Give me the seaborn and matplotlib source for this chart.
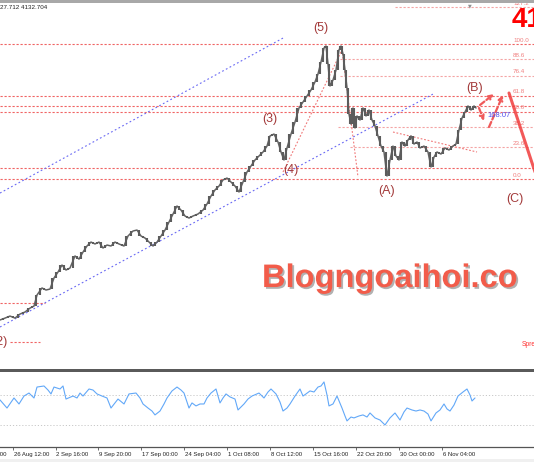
import matplotlib
matplotlib.use("Agg")
import matplotlib.pyplot as plt
import matplotlib.patheffects as pe
from matplotlib.patches import Rectangle
import seaborn as sns

# ---------------- data ----------------
# price expressed in Fibonacci-percent units of the drawn retracement
bar_x = [0, 5, 10, 15, 20, 25, 30, 34, 37, 42, 46, 50, 54, 58, 62, 66, 70, 75, 79, 83,
         87, 91, 95, 99, 103, 107, 111, 115, 119, 124, 128, 133, 137, 141, 145, 149, 153, 157, 161, 165,
         169, 173, 177, 181, 185, 189, 193, 198, 203, 207, 211, 215, 219, 223, 227, 231, 235, 239, 243, 247,
         251, 255, 259, 263, 267, 270, 274, 278, 281, 284, 287, 291, 295, 299, 303, 307, 311, 315, 318, 321,
         324, 326, 328, 330, 333, 336, 339, 341, 343, 345, 347, 349, 351, 353, 355, 357, 360, 363, 366, 369,
         372, 375, 378, 381, 384, 387, 390, 393, 396, 399, 402, 405, 408, 411, 414, 417, 420, 424, 428, 431,
         434, 437, 441, 445, 449, 453, 456, 459, 462, 465, 468, 471, 474, 476]
price = [-104.4, -103.0, -101.5, -103.0, -100.0, -98.5, -95.6, -94.1, -85.9, -80.7,
         -82.2, -81.5, -73.3, -68.9, -63.7, -67.4, -65.9, -57.0, -59.3, -54.1,
         -49.6, -46.7, -48.1, -46.7, -51.1, -48.9, -49.6, -46.7, -48.1, -49.6,
         -42.2, -38.5, -37.8, -42.2, -43.7, -46.7, -49.6, -46.7, -42.2, -37.8,
         -31.9, -25.9, -20.0, -23.0, -27.4, -28.9, -27.4, -25.9, -23.0, -18.5,
         -12.6, -8.1, -5.2, -0.7, 0.7, -2.2, -5.2, -9.6, -2.2, 5.2,
         9.6, 14.1, 17.0, 20.0, 24.4, 31.9, 33.3, 27.4, 20.0, 14.1,
         23.0, 33.3, 42.2, 52.6, 57.0, 61.5, 65.9, 71.9, 77.8, 86.7,
         97.0, 98.5, 85.2, 68.9, 73.3, 80.7, 95.6, 98.5, 92.6, 80.7,
         67.4, 48.1, 40.7, 52.6, 37.8, 46.7, 43.7, 52.6, 46.7, 51.1,
         43.7, 39.3, 31.9, 24.4, 20.0, 2.2, 14.1, 24.4, 17.0, 14.1,
         27.4, 24.4, 28.9, 31.9, 25.9, 27.4, 23.0, 24.4, 20.0, 8.9,
         16.3, 20.0, 18.5, 23.0, 21.5, 24.4, 25.9, 36.3, 45.2, 49.6,
         54.1, 51.1, 54.1, 52.6]

osc_x = [0, 7, 14, 19, 24, 29, 34, 37, 44, 48, 51, 54, 60, 63, 66, 73, 77, 80, 83, 89,
         93, 97, 102, 107, 111, 118, 124, 129, 136, 140, 143, 148, 152, 155, 160, 164, 167, 172, 177, 181,
         184, 189, 192, 196, 200, 204, 207, 211, 216, 220, 223, 226, 230, 235, 238, 244, 248, 252, 259, 264,
         268, 271, 276, 280, 283, 287, 290, 295, 300, 303, 306, 310, 314, 318, 321, 324, 327, 329, 333, 337,
         342, 345, 347, 351, 354, 359, 363, 367, 370, 375, 380, 385, 390, 395, 400, 404, 407, 412, 416, 420,
         424, 428, 431, 436, 440, 444, 447, 450, 454, 458, 463, 467, 470, 472, 475]
osc = [46.7, 41.3, 48.0, 44.0, 49.3, 51.3, 48.0, 55.3, 56.0, 53.3,
       50.7, 55.3, 54.0, 56.0, 47.3, 49.3, 48.0, 51.3, 49.3, 54.0,
       53.3, 50.7, 49.3, 48.0, 41.3, 47.3, 44.0, 50.7, 51.3, 48.0,
       44.0, 41.3, 39.3, 36.7, 39.3, 44.0, 48.0, 52.7, 55.3, 53.3,
       51.3, 41.3, 44.7, 42.7, 44.0, 44.0, 48.0, 51.3, 54.0, 44.7,
       48.0, 50.7, 48.7, 47.3, 40.0, 44.0, 47.3, 49.3, 51.3, 48.0,
       52.0, 54.0, 50.7, 45.3, 39.3, 41.3, 44.0, 49.3, 54.0, 49.3,
       50.7, 52.7, 52.0, 55.3, 56.0, 58.7, 50.0, 42.7, 44.0, 49.3,
       41.3, 36.0, 32.7, 35.3, 34.7, 36.0, 36.7, 35.3, 38.0, 34.7,
       33.3, 30.0, 34.7, 38.0, 33.3, 38.7, 41.3, 40.0, 39.3, 40.0,
       39.3, 37.3, 32.7, 38.0, 40.0, 44.0, 40.7, 39.3, 43.3, 49.3,
       52.0, 54.0, 50.0, 46.0, 48.0]
osc_levels = [50.0, 30.0]

tick_pos = [-30.3, 12.6, 55.5, 98.4, 141.3, 184.2, 227.1, 270.0, 312.9, 355.8, 398.7, 441.6]
tick_labels = ["19 Aug 08:00", "26 Aug 12:00", "2 Sep 16:00", "9 Sep 20:00", "17 Sep 00:00",
               "24 Sep 04:00", "1 Oct 08:00", "8 Oct 12:00", "15 Oct 16:00", "22 Oct 20:00",
               "30 Oct 00:00", "6 Nov 04:00"]

fib_levels = [0.0, 23.6, 38.2, 50.0, 61.8, 76.4, 88.6, 100.0, 127.2]
fib_labels = ["0.0", "23.6", "38.2", "50.0", "61.8", "76.4", "88.6", "100.0", "127.2"]
fib_start = [0, 350, 338, 0, 0, 340, 340, 0, 395]
extra_levels = [54.1, 8.1]
left_levels = [-91.9, -120.7]
left_start = [0, 10]
left_end = [45, 40]

channel_upper_x = [0, 285]
channel_upper_y = [-10.4, 105.2]
channel_lower_x = [0, 435]
channel_lower_y = [-109.6, 63.7]
trend_lines = [([283, 341], [5.2, 94.1]), ([342, 358], [95.6, 1.5]), ([393, 477], [34.8, 20.0])]

waves = ["(5)", "(3)", "(4)", "(A)", "(B)", "(C)"]
wave_x = [321, 270, 291, 387, 475, 515]
wave_y = [111.9, 44.4, 6.7, -8.9, 67.4, -14.8]

proj_arrows = [((480, 54.8), (494, 63.0)), ((479, 52.6), (484, 43.0)), ((489, 38.5), (503, 62.2))]
proj_c_x = [509, 536]
proj_c_y = [63.7, 3.0]

# ---------------- figure ----------------
W, H = 534, 462
sns.set_theme(style="white")
plt.rcParams['font.family'] = ['Liberation Sans', 'DejaVu Sans']
fig = plt.figure(figsize=(W / 100, H / 100), dpi=100)
fig.patch.set_facecolor("white")


def fy(ypx):
    return 1 - ypx / H


ax = fig.add_axes([0, fy(369), 1, (369 - 2) / H])
ax2 = fig.add_axes([0, fy(447), 1, (447 - 371) / H])
for a in (ax, ax2):
    a.set_facecolor("white")
    a.set_xlim(0, W)
    for s in a.spines.values():
        s.set_visible(False)
    a.set_yticks([])
ax.set_xticks([])
ax.set_ylim(-140.7, 131.1)
ax2.set_ylim(15.3, 66.0)

dot_full = (0, (2.0, 1.6))
# horizontal levels
for lv, x0 in zip(fib_levels, fib_start):
    col = "#f06464" if x0 == 0 else "#f4a4a4"
    ax.plot([x0, W], [lv, lv], color=col, lw=0.8, ls=dot_full, zorder=1)
for lv in extra_levels:
    ax.plot([0, W], [lv, lv], color="#f06464", lw=0.8, ls=dot_full, zorder=1)
for lv, x0, x1 in zip(left_levels, left_start, left_end):
    ax.plot([x0, x1], [lv, lv], color="#f06464", lw=0.8, ls=dot_full, zorder=1)
for lv, lab in zip(fib_levels, fib_labels):
    ax.text(513, lv + 1.1, lab, fontsize=4.5, color="#f08080", ha="left", va="bottom")

# channels and trend lines
ax.plot(channel_upper_x, channel_upper_y, color="#6a6af4", lw=0.8, ls=(0, (1.6, 2.2)), zorder=1)
ax.plot(channel_lower_x, channel_lower_y, color="#6a6af4", lw=0.8, ls=(0, (1.6, 2.2)), zorder=1)
for tx, ty in trend_lines:
    ax.plot(tx, ty, color="#f07878", lw=0.8, ls=(0, (1.6, 1.6)), zorder=1)

# price: bar-like rendering (vertical range between successive readings + thin path)
sns.lineplot(x=bar_x, y=price, ax=ax, color="#646464", lw=1.1, sort=False, estimator=None, zorder=3)
mid_x = [(a + b) / 2 for a, b in zip(bar_x[:-1], bar_x[1:])]
lo = [min(a, b) for a, b in zip(price[:-1], price[1:])]
hi = [max(a, b) for a, b in zip(price[:-1], price[1:])]
ax.vlines(mid_x, lo, hi, color="#5c5c5c", lw=1.5, zorder=3)

# projection arrows
for (x0, y0), (x1, y1) in proj_arrows:
    ax.annotate("", xy=(x1, y1), xytext=(x0, y0),
                arrowprops=dict(arrowstyle="->", color="#f05a5a", lw=1.6, ls=(0, (2.5, 1.2)),
                                shrinkA=0, shrinkB=0, mutation_scale=7))
ax.plot(proj_c_x, proj_c_y, color="#f03c3c", lw=2.2, alpha=0.85, zorder=4)

# wave labels
for t, x, y in zip(waves, wave_x, wave_y):
    ax.text(x, y, t, fontsize=9, color="#a33a3a", ha="center", va="center")
ax.text(7.5, -120.7, "(2)", fontsize=9, color="#a33a3a", ha="right", va="center")

# other texts
ax.text(487, 47.4, "168:07", fontsize=5.4, color="#5050f0", ha="left", va="center")
ax.text(512, 112.6, "41", fontsize=20, fontweight="bold", color="#ff0000", ha="left", va="baseline")
ax.text(262, -80, "Blogngoaihoi.co", fontsize=23.5, fontweight="bold", color="#f25c4a",
        ha="left", va="baseline",
        path_effects=[pe.SimplePatchShadow(offset=(1.3, -1.3), shadow_rgbFace="#808080", alpha=0.6),
                      pe.Normal()])
ax.text(522, -123.7, "Spread", fontsize=4.8, color="#ff3030", ha="left", va="baseline")

# oscillator
for lv in osc_levels:
    ax2.plot([0, W], [lv, lv], color="#c8c8c8", lw=0.7, ls=(0, (1.2, 2.0)), zorder=1)
sns.lineplot(x=osc_x, y=osc, ax=ax2, color="#62a8f8", lw=0.8, sort=False, estimator=None, zorder=3)

# time axis
ax2.spines["bottom"].set_visible(True)
ax2.spines["bottom"].set_color("#555555")
ax2.spines["bottom"].set_linewidth(0.9)
ax2.set_xticks([p for p in tick_pos if 0 <= p <= W])
ax2.tick_params(axis="x", bottom=True, direction="out", length=2.5, width=0.6, color="#555555",
                labelbottom=False)
for p, lab in zip(tick_pos, tick_labels):
    ax2.text(p + 1, -0.06, lab, transform=ax2.get_xaxis_transform(), fontsize=4.3,
             color="#222222", ha="left", va="top", clip_on=False)

# window chrome
fig.patches.append(Rectangle((0, fy(2.5)), 1, 2.5 / H, transform=fig.transFigure,
                             facecolor="#a8a8a8", edgecolor="none"))
fig.patches.append(Rectangle((0, fy(371.5)), 1, 2.3 / H, transform=fig.transFigure,
                             facecolor="#5a5a5a", edgecolor="none"))
fig.patches.append(Rectangle((0, 0), 1, 3 / H, transform=fig.transFigure,
                             facecolor="#f0f0f0", edgecolor="none"))
fig.text(470 / W, fy(5.5), "▼", fontsize=3.5, color="#909090", ha="center", va="center",
         family="DejaVu Sans")
fig.text(0, fy(9), "27.712 4132.704", fontsize=4.5, color="#222222", ha="left", va="baseline")

fig.savefig("out.png", dpi=100)
